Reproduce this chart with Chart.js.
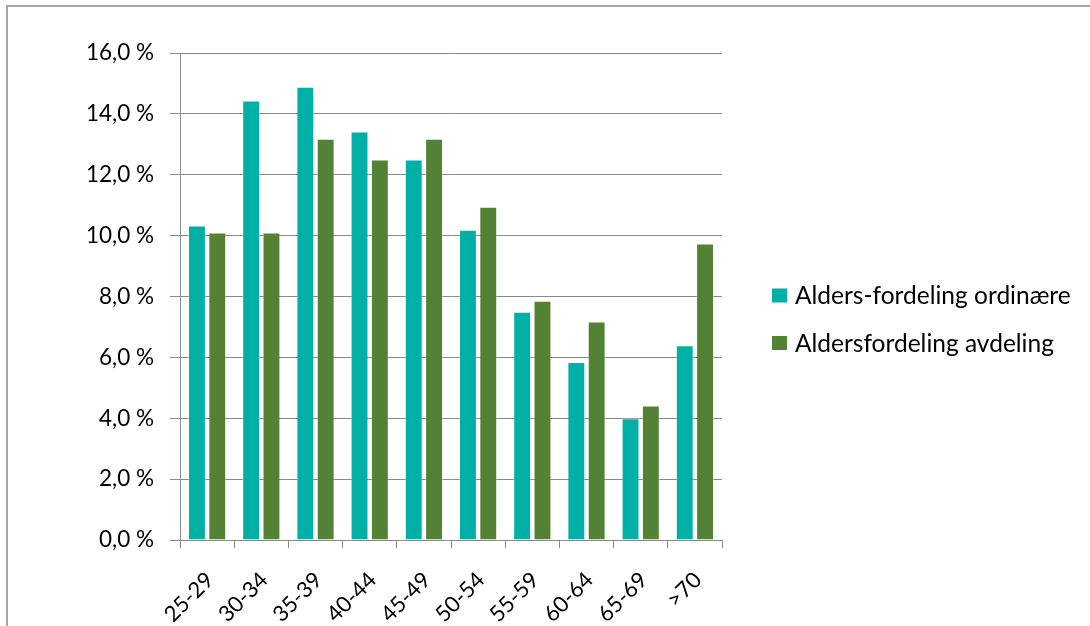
<!DOCTYPE html>
<html>
<head>
<meta charset="utf-8">
<script src="https://cdn.jsdelivr.net/npm/chart.js@4"></script>
<style>
html,body{margin:0;padding:0;background:#fff;}
#wrap{position:relative;width:1090px;height:626px;overflow:hidden;}
#frame{position:absolute;left:6px;top:5px;right:-10px;bottom:-10px;border-left:2px solid #a6a6a6;border-top:2px solid #a6a6a6;}
canvas{position:absolute;left:0;top:0;}
</style>
</head>
<body>
<div id="wrap">
<div id="frame"></div>
<canvas id="c" width="1090" height="626"></canvas>
</div>
<script>
const categories = ["25-29","30-34","35-39","40-44","45-49","50-54","55-59","60-64","65-69",">70"];
const seriesNames = ["Alders-fordeling ordinære","Aldersfordeling avdeling"];
const ordinaere = [10.33, 14.44, 14.89, 13.42, 12.50, 10.19, 7.50, 5.85, 4.00, 6.40];
const avdeling  = [10.10, 10.10, 13.18, 12.50, 13.18, 10.95, 7.86, 7.18, 4.42, 9.74];
const yTicks = [0, 2, 4, 6, 8, 10, 12, 14, 16];

const FONT = "Lato";
const teal = "#00B0A7";
const green = "#548235";
const gridCol = "#8a8a8a";

const legendPlugin = {
  id: "customLegend",
  afterDraw(chart) {
    const ctx = chart.ctx;
    const ds = chart.data.datasets;
    const x0 = 772, ys = [295.5, 343];
    ctx.save();
    ctx.font = "24.5px " + FONT;
    ctx.textBaseline = "middle";
    ctx.textAlign = "left";
    ds.forEach((d, i) => {
      ctx.fillStyle = d.backgroundColor;
      ctx.fillRect(x0, ys[i] - 7, 15, 14);
      ctx.fillStyle = "#000";
      ctx.fillText(d.label, 795, ys[i] + 1);
    });
    ctx.restore();
  }
};

new Chart(document.getElementById("c"), {
  type: "bar",
  data: {
    labels: categories,
    datasets: [
      { label: seriesNames[0], data: ordinaere, backgroundColor: teal, borderColor: "rgba(255,255,255,0.3)", borderWidth: 1 },
      { label: seriesNames[1], data: avdeling, backgroundColor: green, borderColor: "rgba(255,255,255,0.3)", borderWidth: 1 }
    ]
  },
  options: {
    responsive: false,
    animation: false,
    devicePixelRatio: 1,
    layout: { padding: { top: 53, right: 368, bottom: 0, left: 0 } },
    datasets: { bar: { categoryPercentage: 0.75, barPercentage: 0.88 } },
    plugins: { legend: { display: false }, tooltip: { enabled: false } },
    scales: {
      x: {
        grid: { display: true, drawOnChartArea: false, drawTicks: true, tickLength: 8, color: gridCol, offset: true },
        border: { display: true, color: gridCol, width: 1 },
        ticks: { autoSkip: false, minRotation: 45, maxRotation: 45, padding: 19, labelOffset: 3, color: "#000", font: { family: FONT, size: 22 } },
        afterFit(s) { s.height = 86; }
      },
      y: {
        min: 0, max: 16,
        afterBuildTicks(s) { s.ticks = yTicks.map(v => ({ value: v })); },
        grid: { color: gridCol, tickLength: 10, drawTicks: true },
        border: { display: true, color: gridCol, width: 1 },
        ticks: {
          padding: 16, color: "#000", font: { family: FONT, size: 22.5 },
          callback: v => v.toFixed(1).replace(".", ",") + " %"
        },
        afterFit(s) { s.width = 180; }
      }
    }
  },
  plugins: [legendPlugin]
});
</script>
</body>
</html>
